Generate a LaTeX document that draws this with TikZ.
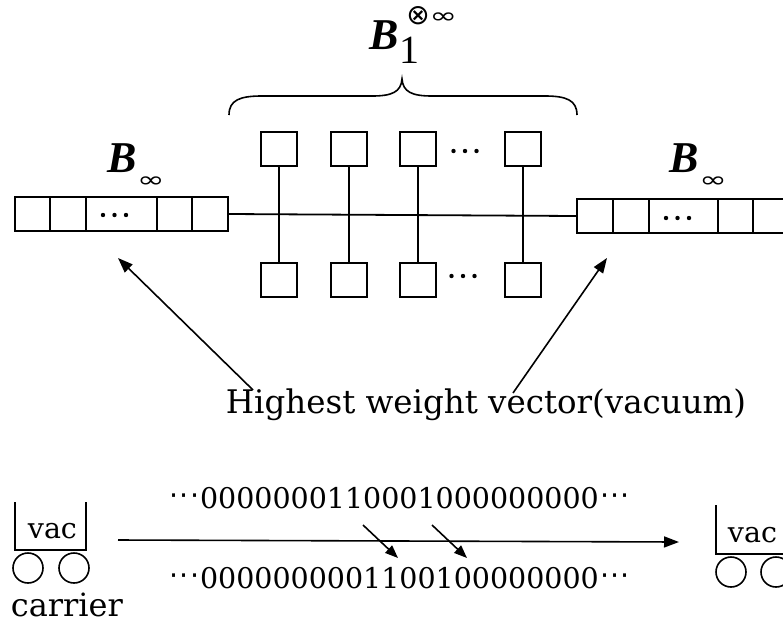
\documentclass[tikz,border=0pt]{standalone}
\usepackage{fontspec}
\usepackage{graphicx}
\setmainfont{DejaVu Serif}
\newfontfamily\bfont{Liberation Serif}
\newfontfamily\symfont{DejaVu Sans}
\usetikzlibrary{arrows.meta,calc}
\newcommand{\mydots}{\raisebox{3pt}{\symfont\kern1pt·\kern1pt·\kern1pt·\kern1pt}}
\newcommand{\crystal}{\bfont\fontsize{44}{44}\selectfont\textbf{\textit{B}}}
\newcommand{\wideinf}{\scalebox{1.5}[1]{\symfont\fontsize{22}{22}\selectfont ∞}}
% three heavy dots centred on a given point
\newcommand{\threedots}[1]{\foreach \d in {-11.5,0,11.5}{\fill ([xshift=\d pt]#1) circle (2.2pt);}}
\begin{document}
\begin{tikzpicture}[x=1pt,y=-1pt,line width=1.8pt,
  cell/.style={draw,minimum height=34pt,inner sep=0pt},
  sq/.style={draw,minimum width=36pt,minimum height=34pt,inner sep=0pt},
  txt/.style={inner sep=0pt,anchor=base west},
  arr/.style={-{Triangle[length=15pt,width=11pt]},line width=1.6pt},
  smallarr/.style={-{Triangle[length=13pt,width=10pt]},line width=1.6pt},
  wheel/.style={draw,circle,minimum size=30pt,inner sep=0pt,line width=1.6pt},
  cart/.style={line width=1.6pt},
]
\useasboundingbox (0,0) rectangle (783,624);
\clip (0,0) rectangle (783,624);

% left crystal B_infinity
\node[cell,minimum width=35pt] (L1) at (32.5,214) {};
\node[cell,minimum width=36pt] (L2) at (68,214) {};
\node[cell,minimum width=71pt] (L3) at (121.5,214) {};
\node[cell,minimum width=35pt] (L4) at (174.5,214) {};
\node[cell,minimum width=36pt] (L5) at (210,214) {};
\coordinate (Ldots) at ($(L3.center)+(-7,1)$);
\threedots{Ldots}

% right crystal B_infinity
\node[cell,minimum width=36pt] (R1) at (595,216) {};
\node[cell,minimum width=36pt] (R2) at (631,216) {};
\node[cell,minimum width=69pt] (R3) at (683.5,216) {};
\node[cell,minimum width=35pt] (R4) at (735.5,216) {};
\node[cell,minimum width=36pt] (R5) at (771,216) {};
\coordinate (Rdots) at ($(R3.center)+(-6,2)$);
\threedots{Rdots}

\draw (L5.east) -- (R1.west);

% the tensor product of B_1's
\foreach \i/\x in {1/279,2/349,3/418,4/523}{
  \node[sq] (T\i) at (\x,149) {};
  \node[sq] (U\i) at (\x,280) {};
  \draw (T\i) -- (U\i);
}
\coordinate (Tdots) at (465,151);
\coordinate (Udots) at (463,276);
\threedots{Tdots}
\threedots{Udots}

% brace
\draw[line width=1.6pt] (229,115) .. controls (229,100) and (240,96) .. (262,96)
  -- (372,96) .. controls (392,96) and (401,92) .. (402,79)
  .. controls (403,92) and (412,96) .. (432,96)
  -- (545,96) .. controls (566,96) and (577,100) .. (577,115);

% labels
\node[txt] (Btop) at (369,49) {\crystal\kern0pt\raisebox{-14pt}{\bfont\fontsize{40}{40}\selectfont 1}\kern-13pt\raisebox{25pt}{\symfont\fontsize{28}{28}\selectfont ⊗\kern0pt\raisebox{1pt}{\wideinf}}};
\node[txt] (BL) at (107,172) {\crystal\kern0pt\raisebox{-15pt}{\wideinf}};
\node[txt] (BR) at (669,172) {\crystal\kern0pt\raisebox{-15pt}{\wideinf}};

\node[txt,font=\fontsize{32.5}{36}\selectfont] (hwv) at (225,413) {Highest weight vector(vacuum)};
\coordinate (hl) at (253,390);
\coordinate (hr) at (513,393);
\coordinate (tl) at (118,258);
\coordinate (tr) at (607,258);
\draw[arr] (hl) -- (tl);
\draw[arr] (hr) -- (tr);

% box-ball states
\node[txt,font=\fontsize{28.5}{32}\selectfont] (s1) at (168,508) {\mydots0000000110001000000000\mydots};
\node[txt,font=\fontsize{28.5}{32}\selectfont] (s2) at (168,588) {\mydots0000000001100100000000\mydots};
\coordinate (a1) at (363,525);
\coordinate (b1) at (398,558);
\coordinate (a2) at (432,525);
\coordinate (b2) at (467,558);
\draw[smallarr] (a1) -- (b1);
\draw[smallarr] (a2) -- (b2);

% carriers
\draw[cart] (15,502) |- (86,550) -- (86,502);
\node[txt,font=\fontsize{28.5}{32}\selectfont] (vacL) at (27,538) {vac};
\node[wheel] (wL1) at (28,568) {};
\node[wheel] (wL2) at (74,568) {};
\node[txt,font=\fontsize{32}{36}\selectfont] (car) at (10,616) {carrier};

\draw[cart] (716,505) |- (790,554) -- (790,505);
\node[txt,font=\fontsize{28.5}{32}\selectfont] (vacR) at (727,542) {vac};
\node[wheel] (wR1) at (731,572) {};
\node[wheel] (wR2) at (776,572) {};

\coordinate (c0) at (118,540);
\coordinate (c1) at (679,542);
\draw[arr] (c0) -- (c1);
\end{tikzpicture}
\end{document}
